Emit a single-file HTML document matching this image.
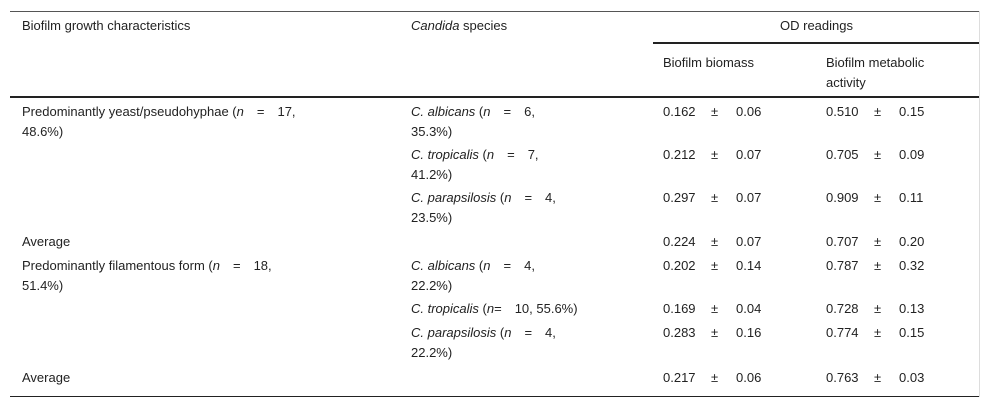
<!DOCTYPE html>
<html><head><meta charset="utf-8"><style>
body{margin:0;width:992px;height:407px;background:#fff;position:relative;font-family:"Liberation Sans",sans-serif;font-size:13px;color:#222;overflow:hidden}
.t{position:absolute;line-height:20px;white-space:nowrap}
.l{position:absolute;background:#222}
i{font-style:italic}
</style></head><body>
<div class="l" style="left:10px;top:11px;width:970px;height:1px;background:#555"></div>
<div class="l" style="left:653px;top:42px;width:327px;height:2px"></div>
<div class="l" style="left:10px;top:96px;width:970px;height:2px"></div>
<div class="l" style="left:10px;top:396px;width:970px;height:1px"></div>
<div class="l" style="left:979px;top:11px;width:1px;height:386px;background:#ddd"></div>

<div class="t" style="left:22px;top:16px">Biofilm growth characteristics</div>
<div class="t" style="left:411px;top:16px"><i>Candida</i> species</div>
<div class="t" style="left:653px;top:16px;width:327px;text-align:center">OD readings</div>
<div class="t" style="left:663px;top:53px">Biofilm biomass</div>
<div class="t" style="left:826px;top:53px;white-space:normal;width:140px">Biofilm metabolic activity</div>

<div id="rows"></div>
<script>
const col1=[
 [102,'Predominantly yeast/pseudohyphae (<i>n</i>&emsp;=&emsp;17,<br>48.6%)'],
 [232,'Average'],
 [256,'Predominantly filamentous form (<i>n</i>&emsp;=&emsp;18,<br>51.4%)'],
 [368,'Average']];
const col2=[
 [102,'<i>C. albicans</i> (<i>n</i>&emsp;=&emsp;6,<br>35.3%)'],
 [145,'<i>C. tropicalis</i> (<i>n</i>&emsp;=&emsp;7,<br>41.2%)'],
 [188,'<i>C. parapsilosis</i> (<i>n</i>&emsp;=&emsp;4,<br>23.5%)'],
 [256,'<i>C. albicans</i> (<i>n</i>&emsp;=&emsp;4,<br>22.2%)'],
 [299,'<i>C. tropicalis</i> (<i>n</i>=&emsp;10, 55.6%)'],
 [323,'<i>C. parapsilosis</i> (<i>n</i>&emsp;=&emsp;4,<br>22.2%)']];
const rowTops=[102,145,188,232,256,299,323,368];
const biomass=['0.162','0.212','0.297','0.224','0.202','0.169','0.283','0.217'];
const biomassSd=['0.06','0.07','0.07','0.07','0.14','0.04','0.16','0.06'];
const meta=['0.510','0.705','0.909','0.707','0.787','0.728','0.774','0.763'];
const metaSd=['0.15','0.09','0.11','0.20','0.32','0.13','0.15','0.03'];
function add(x,y,html,name){const d=document.createElement('div');d.className='t';d.style.left=x+'px';d.style.top=y+'px';d.innerHTML=html;


document.body.appendChild(d);}
col1.forEach((r,i)=>add(22,r[0],r[1],'growth-cell'));
col2.forEach((r,i)=>add(411,r[0],r[1],'species-cell'));
rowTops.forEach((y,i)=>{
 add(663,y,biomass[i],'biomass-value');add(711,y,'±','pm');add(736,y,biomassSd[i],'biomass-sd');
 add(826,y,meta[i],'metabolic-value');add(874,y,'±','pm');add(899,y,metaSd[i],'metabolic-sd');
});
</script>
</body></html>
